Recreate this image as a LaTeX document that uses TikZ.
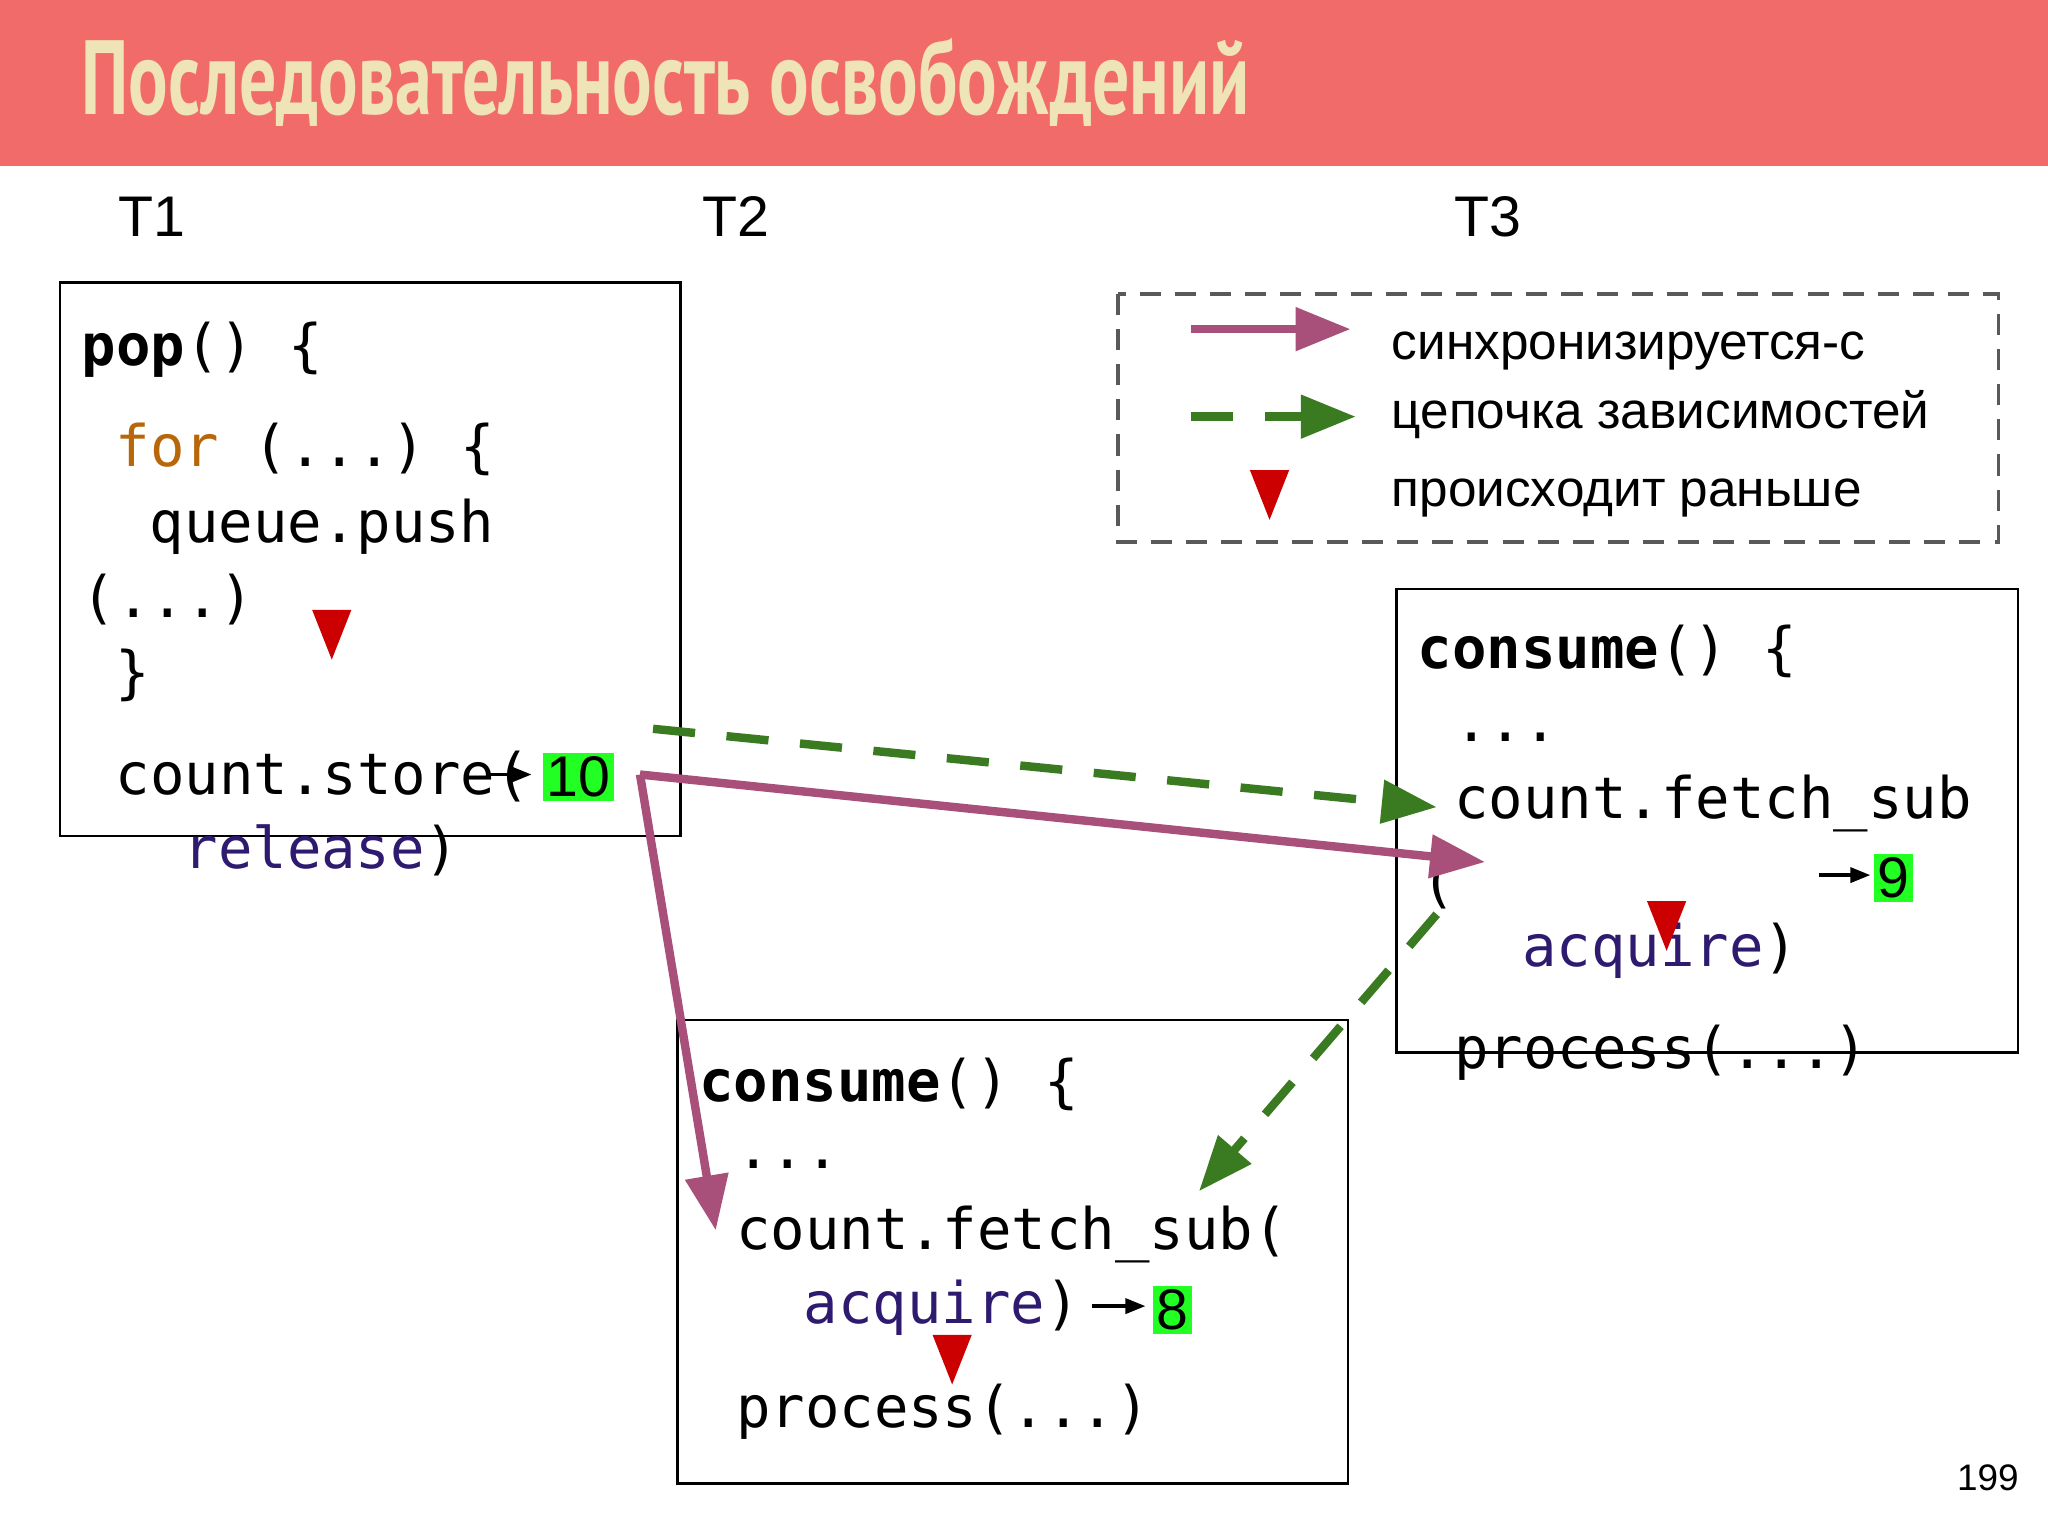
\documentclass[tikz,border=0pt]{standalone}
\usepackage{fontspec}
\setmainfont{Liberation Sans}
\setmonofont{DejaVu Sans Mono}
\newfontfamily\titlefont{PT Sans}
\usetikzlibrary{arrows.meta}
\definecolor{hdr}{HTML}{F26B6B}
\definecolor{ttl}{HTML}{EEE4B8}
\definecolor{syn}{HTML}{A8507A}
\definecolor{dep}{HTML}{3A7A20}
\definecolor{hb}{HTML}{CC0000}
\definecolor{kw}{HTML}{B8660A}
\definecolor{ord}{HTML}{2E1A6E}
\definecolor{num}{HTML}{22FF22}
\begin{document}
\begin{tikzpicture}[x=0.01306cm,y=-0.01306cm,
 code/.style={anchor=base west,inner sep=0pt,font=\ttfamily\fontsize{16.3}{18}\selectfont},
 lab/.style={anchor=base west,inner sep=0pt,font=\fontsize{16.3}{18}\selectfont},
 leg/.style={anchor=base west,inner sep=0pt,font=\fontsize{14.6}{16}\selectfont},
 box/.style={draw,line width=0.8pt},
 numb/.style={fill=num,inner sep=1pt,font=\fontsize{16.3}{18}\selectfont},
 syna/.style={draw=syn,line width=2.4pt,-{Triangle[length=0.55cm,width=0.42cm]}},
 depa/.style={draw=dep,line width=2.4pt,dash pattern=on 12pt off 9pt,-{Triangle[length=0.55cm,width=0.42cm]}},
 smalla/.style={line width=1pt,-{Triangle[length=0.2cm,width=0.15cm]}}]
\useasboundingbox (0,0) rectangle (1568,1176);
\fill[hdr] (0,0) rectangle (1568,127);
\node[anchor=base west,inner sep=0pt,text=ttl,font=\titlefont\bfseries\fontsize{30}{32}\selectfont] (title) at (62,88) {\scalebox{0.70}[1]{Последовательность освобождений}};
\node[lab] (t1) at (90,181) {T1};
\node[lab] (t2) at (537,181) {T2};
\node[lab] (t3) at (1113,181) {T3};
% legend
\draw[gray!70!black,line width=1pt,dash pattern=on 6pt off 4pt] (856,225) rectangle (1530,415);
\coordinate (l1a) at (912,252); \coordinate (l1b) at (1034,252);
\coordinate (l2a) at (912,319); \coordinate (l2b) at (1038,319);
\draw[syna] (l1a) -- (l1b);
\draw[depa] (l2a) -- (l2b);
\node[leg] (lg1) at (1065,275) {синхронизируется-с};
\node[leg] (lg2) at (1065,328) {цепочка зависимостей};
\node[leg] (lg3) at (1065,388) {происходит раньше};
\fill[hb] (957,360) -- (987,360) -- (972,398) -- cycle;
% box1
\draw[box] (46,216) rectangle (521,640);
\node[code] (a1) at (62,280) {\textbf{pop}() \{};
\node[code] (a2) at (88,357) {\textcolor{kw}{for} (...) \{};
\node[code] (a3) at (114,415) {queue.push};
\node[code] (a4) at (62,473) {(...)};
\node[code] (a5) at (88,530) {\}};
\node[code] (a6) at (88,608) {count.store(};
\node[code] (a7) at (140,665) {\textcolor{ord}{release})};
\node[numb] (n10) at (443,595) {10};
\fill[hb] (239,467) -- (269,467) -- (254,505) -- cycle;
\coordinate (s1a) at (372,593); \coordinate (s1b) at (407,593);
\draw[smalla] (s1a) -- (s1b);
% box T3
\draw[box] (1069,451) rectangle (1545,806);
\node[code] (c1) at (1085,512) {\textbf{consume}() \{};
\node[code] (c2) at (1113,568) {...};
\node[code] (c3) at (1113,627) {count.fetch\_sub};
\node[code] (c4) at (1088,690) {(};
\node[code] (c5) at (1165,740) {\textcolor{ord}{acquire})};
\node[code] (c6) at (1113,818) {process(...)};
\node[numb] (n9) at (1450,672) {9};
\coordinate (s3a) at (1393,670); \coordinate (s3b) at (1432,670);
\draw[smalla] (s3a) -- (s3b);
\fill[hb] (1261,690) -- (1291,690) -- (1276,728) -- cycle;
% box T2
\draw[box] (519,781) rectangle (1032,1136);
\node[code] (b1) at (535,843) {\textbf{consume}() \{};
\node[code] (b2) at (563,895) {...};
\node[code] (b3) at (563,957) {count.fetch\_sub(};
\node[code] (b4) at (615,1013) {\textcolor{ord}{acquire})};
\node[code] (b5) at (563,1093) {process(...)};
\node[numb] (n8) at (898,1003) {8};
\coordinate (s2a) at (836,1000); \coordinate (s2b) at (877,1000);
\draw[smalla] (s2a) -- (s2b);
\fill[hb] (714,1022) -- (744,1022) -- (729,1060) -- cycle;
% main arrows
\coordinate (p0) at (490,593);
\coordinate (p1) at (1137,660);
\coordinate (p2) at (548,942);
\coordinate (g0) at (500,558);
\coordinate (g1) at (1100,618);
\coordinate (g2) at (1100,700);
\coordinate (g3) at (918,912);
\draw[syna] (p0) -- (p1);
\draw[syna] (p0) -- (p2);
\draw[depa] (g0) -- (g1);
\draw[depa] (g2) -- (g3);
\node[anchor=base east,inner sep=0pt,font=\fontsize{10.5}{12}\selectfont] (pg) at (1546,1141) {199};
\end{tikzpicture}
\end{document}
